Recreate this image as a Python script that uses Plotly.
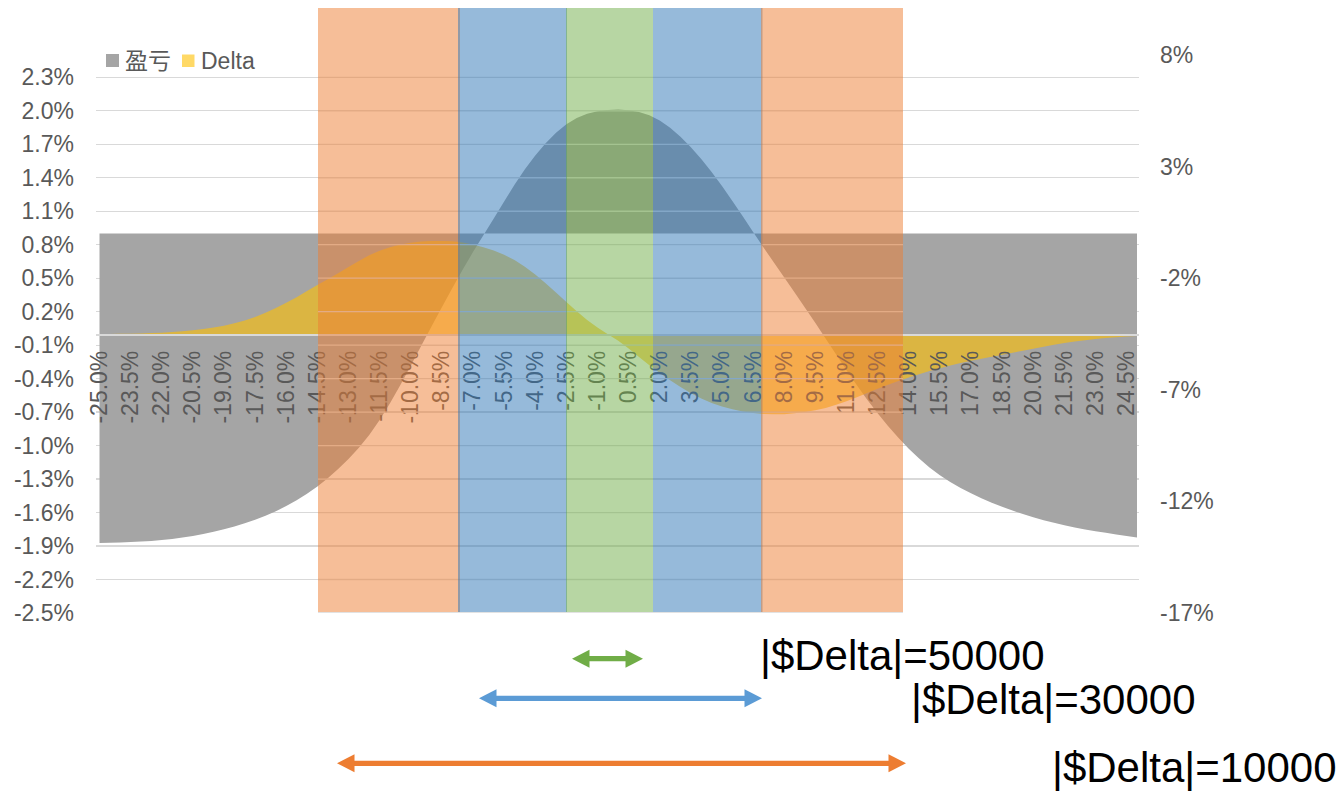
import plotly.graph_objects as go

# ---------------- data ----------------
categories = [round(-25 + 0.5 * i, 1) for i in range(101)]  # -25.0% .. 25.0%

pnl = [  # 盈亏 (%), right axis
    -13.86, -13.85, -13.84, -13.82, -13.80, -13.77, -13.73, -13.68, -13.62, -13.55,
    -13.46, -13.36, -13.25, -13.12, -12.98, -12.82, -12.64, -12.44, -12.21, -11.95,
    -11.66, -11.33, -10.96, -10.55, -10.10, -9.60, -9.02, -8.35, -7.60, -6.78,
    -5.92, -5.04, -4.16, -3.30, -2.45, -1.62, -0.83, -0.08, 0.68, 1.44,
    2.19, 2.88, 3.50, 4.05, 4.52, 4.90, 5.18, 5.37, 5.48, 5.54,
    5.56, 5.53, 5.45, 5.30, 5.06, 4.74, 4.34, 3.87, 3.34, 2.76,
    2.13, 1.46, 0.77, 0.07, -0.62, -1.30, -1.97, -2.64, -3.32, -4.01,
    -4.71, -5.42, -6.12, -6.80, -7.45, -8.05, -8.62, -9.15, -9.64, -10.08,
    -10.48, -10.83, -11.13, -11.40, -11.64, -11.86, -12.06, -12.24, -12.41, -12.57,
    -12.71, -12.84, -12.96, -13.07, -13.17, -13.26, -13.34, -13.41, -13.48, -13.55,
    -13.62,
]

delta = [  # Delta (%), left axis
    0.0005, 0.001, 0.002, 0.003, 0.005, 0.008, 0.012, 0.017, 0.024, 0.033,
    0.044, 0.058, 0.075, 0.096, 0.122, 0.153, 0.19, 0.232, 0.28, 0.33,
    0.385, 0.44, 0.49, 0.545, 0.60, 0.655, 0.705, 0.745, 0.778, 0.802,
    0.818, 0.828, 0.833, 0.834, 0.830, 0.820, 0.802, 0.778, 0.748, 0.710,
    0.662, 0.603, 0.533, 0.455, 0.372, 0.287, 0.203, 0.126, 0.058, -0.002,
    -0.06, -0.13, -0.205, -0.28, -0.35, -0.415, -0.475, -0.53, -0.578, -0.618,
    -0.65, -0.675, -0.695, -0.708, -0.716, -0.72, -0.718, -0.711, -0.70, -0.684,
    -0.662, -0.634, -0.602, -0.566, -0.528, -0.49, -0.455, -0.422, -0.39, -0.36,
    -0.332, -0.306, -0.282, -0.26, -0.24, -0.222, -0.204, -0.186, -0.168, -0.15,
    -0.132, -0.114, -0.097, -0.081, -0.067, -0.055, -0.045, -0.036, -0.029, -0.023,
    -0.018,
]

x_ticks = categories[::3]
x_ticktext = [f"{v:.1f}%" for v in x_ticks]
left_ticks = [-2.5, -2.2, -1.9, -1.6, -1.3, -1.0, -0.7, -0.4, -0.1, 0.2, 0.5, 0.8, 1.1, 1.4, 1.7, 2.0, 2.3]
left_ticktext = [f"{v:.1f}%" for v in left_ticks]
right_ticks = [-17, -12, -7, -2, 3, 8]
right_ticktext = [f"{v}%" for v in right_ticks]

band_labels = ["|$Delta|=50000", "|$Delta|=30000", "|$Delta|=10000"]

# ---------------- layout helpers ----------------
W, H = 1343, 791
PL, PR, PT, PB = 96, 1139, 55, 613
FONT = "Liberation Sans, Arial, Noto Sans CJK SC, sans-serif"
GRAY_TXT = "#595959"


def fx(px):
    return (px - PL) / (PR - PL)


def fy(py):
    return (PB - py) / (PB - PT)


# x range so that -25 sits at 99.5px and 25 at 1137px
ppu = (1137 - 99.5) / 50.0
x_range = [-25 - (99.5 - PL) / ppu, 25 + (PR - 1137) / ppu]

fig = go.Figure()
fig.add_trace(go.Scatter(
    x=categories, y=pnl, mode="none", fill="tozeroy",
    fillcolor="#A5A5A5", yaxis="y", name="盈亏", showlegend=False, hoverinfo="skip"))
fig.add_trace(go.Scatter(
    x=categories, y=delta, mode="none", fill="tozeroy",
    fillcolor="rgba(255,192,0,0.6)", yaxis="y2", name="Delta", showlegend=False,
    hoverinfo="skip"))

shapes = []
# gridlines visible through the translucent bands
for v in left_ticks:
    shapes.append(dict(type="line", xref="paper", yref="y2", x0=fx(318), x1=fx(903),
                       y0=v, y1=v, line=dict(color="#D9D9D9", width=1.3), layer="above"))
# translucent bands
bands = [
    (318, 460, "rgba(237,125,49,0.5)"),
    (458, 567, "rgba(46,117,182,0.5)"),
    (566, 653, "rgba(112,173,71,0.5)"),
    (653, 762.5, "rgba(46,117,182,0.5)"),
    (761, 903, "rgba(237,125,49,0.5)"),
]
for x0, x1, c in bands:
    shapes.append(dict(type="rect", xref="paper", yref="paper", x0=fx(x0), x1=fx(x1),
                       y0=fy(612), y1=fy(8), fillcolor=c, line=dict(width=0), layer="above"))

# double arrows
arrows = [
    (572, 643, 658.7, "#70AD47"),
    (479, 762, 698.3, "#5B9BD5"),
    (337, 906, 763.3, "#ED7D31"),
]
HL, HH = 17.5, 9.0
for xa, xb, yc, c in arrows:
    shapes.append(dict(type="line", xref="paper", yref="paper",
                       x0=fx(xa + HL - 1), x1=fx(xb - HL + 1), y0=fy(yc), y1=fy(yc),
                       line=dict(color=c, width=5.3), layer="above"))
    p1 = (f"M {fx(xa)},{fy(yc)} L {fx(xa + HL)},{fy(yc - HH)} "
          f"L {fx(xa + HL)},{fy(yc + HH)} Z")
    p2 = (f"M {fx(xb)},{fy(yc)} L {fx(xb - HL)},{fy(yc - HH)} "
          f"L {fx(xb - HL)},{fy(yc + HH)} Z")
    for p in (p1, p2):
        shapes.append(dict(type="path", xref="paper", yref="paper", path=p,
                           fillcolor=c, line=dict(width=0), layer="above"))

# legend squares
shapes.append(dict(type="rect", xref="paper", yref="paper", x0=fx(106), x1=fx(119),
                   y0=fy(67), y1=fy(54), fillcolor="#A5A5A5", line=dict(width=0)))
shapes.append(dict(type="rect", xref="paper", yref="paper", x0=fx(182), x1=fx(194.5),
                   y0=fy(67), y1=fy(54.5), fillcolor="rgba(255,192,0,0.6)", line=dict(width=0)))

annotations = [
    dict(text="盈亏", x=fx(123), y=fy(61), xref="paper", yref="paper", xanchor="left",
         yanchor="middle", showarrow=False, font=dict(size=23, color=GRAY_TXT, family=FONT)),
    dict(text="Delta", x=fx(199), y=fy(61), xref="paper", yref="paper", xanchor="left",
         yanchor="middle", showarrow=False, font=dict(size=23, color=GRAY_TXT, family=FONT)),
]
for (tx, ty), t in zip([(758, 655), (909, 699), (1050, 767)], band_labels):
    annotations.append(dict(text=t, x=fx(tx), y=fy(ty), xref="paper", yref="paper",
                            xanchor="left", yanchor="middle", showarrow=False,
                            font=dict(size=42, color="#000000", family=FONT)))

fig.update_layout(
    width=W, height=H,
    margin=dict(l=PL, r=W - PR, t=PT, b=H - PB, pad=0),
    paper_bgcolor="white", plot_bgcolor="white",
    font=dict(family=FONT, size=23, color=GRAY_TXT),
    showlegend=False, hovermode=False,
    xaxis=dict(range=x_range, tickmode="array", tickvals=x_ticks, ticktext=x_ticktext,
               tickangle=-90, anchor="free", position=0.5, showgrid=False, zeroline=False,
               showline=True, linecolor="#D9D9D9", linewidth=1.5, ticks="",
               tickfont=dict(size=23, color=GRAY_TXT, family=FONT), ticklabelstandoff=6),
    yaxis=dict(range=[-17, 8], side="right", tickmode="array", tickvals=right_ticks,
               ticktext=right_ticktext, showgrid=False, zeroline=False, showline=False,
               ticks="", anchor="x", tickfont=dict(size=23, color=GRAY_TXT, family=FONT),
               ticklabelstandoff=20),
    yaxis2=dict(range=[-2.5, 2.5], side="left", overlaying="y", tickmode="array",
                tickvals=left_ticks, ticktext=left_ticktext, showgrid=True,
                gridcolor="#D9D9D9", gridwidth=1.3, zeroline=False, showline=False,
                ticks="", anchor="x", tickfont=dict(size=23, color=GRAY_TXT, family=FONT),
                ticklabelstandoff=21),
    shapes=shapes,
    annotations=annotations,
)

fig.write_html(
    "out.html",
    config={"displayModeBar": False, "staticPlot": True},
    post_script="document.body.style.margin='0';document.documentElement.style.overflow='hidden';",
)
